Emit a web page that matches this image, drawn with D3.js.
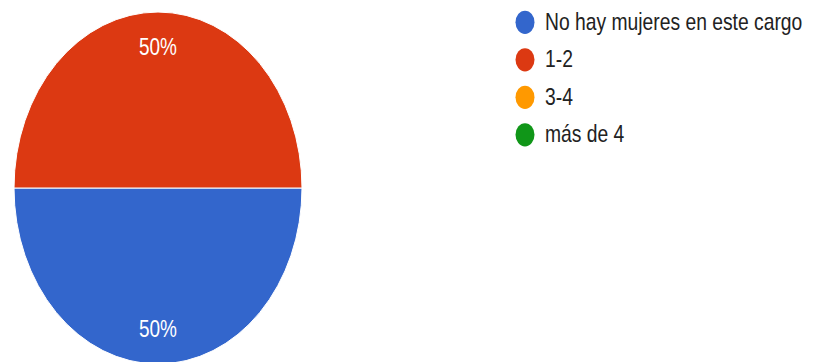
<!DOCTYPE html>
<html>
<head>
<meta charset="utf-8">
<script src="https://cdn.jsdelivr.net/npm/d3@7"></script>
<style>
  html, body { margin: 0; padding: 0; background: #ffffff; }
  svg { display: block; }
  text { font-family: "Liberation Sans", Arial, sans-serif; }
</style>
</head>
<body>
<svg id="chart" width="814" height="362"></svg>
<script>
// Responses per answer option
const categories = ["No hay mujeres en este cargo", "1-2", "3-4", "más de 4"];
const counts = [1, 1, 0, 0];
const colors = ["#3366cc", "#dc3912", "#ff9900", "#109618"];

const W = 814, H = 362;
const SY = 1.222;              // vertical stretch of the whole drawing
const cx = 158, cy = 188 / SY; // pie centre (unstretched units)
const radius = 144;

const svg = d3.select("#chart");
const root = svg.append("g").attr("transform", `scale(1,${SY})`);

const total = d3.sum(counts);
const data = categories.map((c, i) => ({ name: c, value: counts[i], color: colors[i] }));

// Slices start at 3 o'clock and run clockwise
const pie = d3.pie()
  .value(d => d.value)
  .sort(null)
  .startAngle(Math.PI / 2)
  .endAngle(Math.PI / 2 + 2 * Math.PI);

const arcs = pie(data).filter(d => d.data.value > 0);
const arc = d3.arc().innerRadius(0).outerRadius(radius);
const labelArc = d3.arc().innerRadius(radius * 0.8).outerRadius(radius * 0.8);

const pieG = root.append("g").attr("transform", `translate(${cx},${cy})`);

pieG.selectAll("path.slice")
  .data(arcs)
  .join("path")
  .attr("class", "slice")
  .attr("d", arc)
  .attr("fill", d => d.data.color)
  .attr("stroke", "#ffffff")
  .attr("stroke-width", 1)
  .attr("vector-effect", "non-scaling-stroke");

const fmt = d3.format(".0%");
pieG.selectAll("text.pct")
  .data(arcs)
  .join("text")
  .attr("class", "pct")
  .attr("transform", d => `translate(${labelArc.centroid(d)})`)
  .attr("text-anchor", "middle")
  .attr("dominant-baseline", "central")
  .attr("fill", "#ffffff")
  .attr("font-size", 19)
  .text(d => fmt(d.data.value / total));

// Legend
const legendX = 525, legendY0 = 22.3 / SY, legendStep = 37.5 / SY;
const legend = root.append("g");
const item = legend.selectAll("g.item")
  .data(data)
  .join("g")
  .attr("class", "item")
  .attr("transform", (d, i) => `translate(${legendX},${legendY0 + i * legendStep})`);

item.append("circle")
  .attr("r", 9.5)
  .attr("fill", d => d.color);

item.append("text")
  .attr("x", 20)
  .attr("dominant-baseline", "central")
  .attr("fill", "#222222")
  .attr("font-size", 19.3)
  .text(d => d.name);
</script>
</body>
</html>
